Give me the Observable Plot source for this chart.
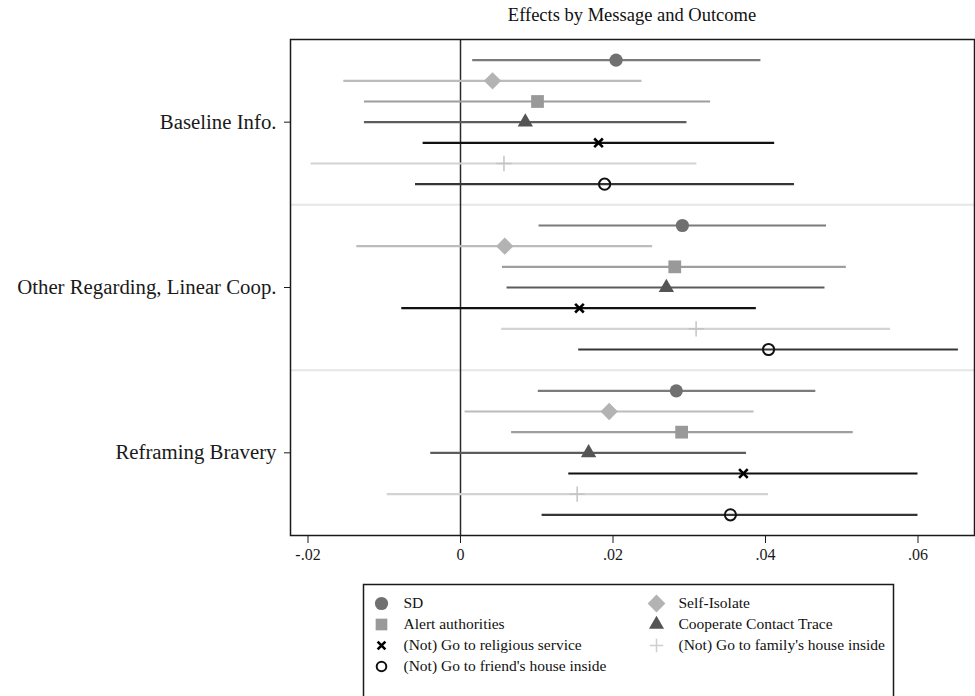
<!DOCTYPE html>
<html>
<head>
<meta charset="utf-8">
<script src="https://cdn.jsdelivr.net/npm/d3@7"></script>
<script src="https://cdn.jsdelivr.net/npm/@observablehq/plot@0.6"></script>
<style>
  html, body { margin: 0; padding: 0; background: #fff; }
  #wrap { position: relative; width: 975px; height: 696px; overflow: hidden; background: #fff; font-family: "Liberation Serif", "Times New Roman", serif; }
  #title { position: absolute; left: 290px; width: 684px; top: 6px; text-align: center; font-size: 18.5px; line-height: 19px; color: #111; }
  #main { position: absolute; left: 0; top: 30px; }
  #legend { position: absolute; left: 0; top: 575px; }
</style>
</head>
<body>
<div id="wrap">
  <div id="title">Effects by Message and Outcome</div>
  <div id="main"></div>
  <div id="legend"></div>
</div>
<script>
// ---- data ----
const messages = ["Baseline Info.", "Other Regarding, Linear Coop.", "Reframing Bravery"];
const outcomes = [
  "SD",
  "Self-Isolate",
  "Alert authorities",
  "Cooperate Contact Trace",
  "(Not) Go to religious service",
  "(Not) Go to family's house inside",
  "(Not) Go to friend's house inside"
];
const estBaseline = [0.0204, 0.0042, 0.0101, 0.0085, 0.0181, 0.0057, 0.0189];
const loBaseline  = [0.0016, -0.0153, -0.0126, -0.0126, -0.0049, -0.0196, -0.0059];
const hiBaseline  = [0.0394, 0.0238, 0.0328, 0.0297, 0.0412, 0.0310, 0.0438];
const estOther = [0.0291, 0.0058, 0.0281, 0.0270, 0.0156, 0.0309, 0.0404];
const loOther  = [0.0103, -0.0136, 0.0055, 0.0061, -0.0077, 0.0054, 0.0155];
const hiOther  = [0.0480, 0.0252, 0.0506, 0.0478, 0.0388, 0.0564, 0.0653];
const estBravery = [0.0283, 0.0195, 0.0290, 0.0168, 0.0371, 0.0153, 0.0354];
const loBravery  = [0.0102, 0.0006, 0.0067, -0.0039, 0.0142, -0.0096, 0.0107];
const hiBravery  = [0.0466, 0.0385, 0.0515, 0.0375, 0.0600, 0.0404, 0.0600];
const xTicks = [-0.02, 0, 0.02, 0.04, 0.06];
const xTickLabels = ["-.02", "0", ".02", ".04", ".06"];

// ---- table ----
const est = [estBaseline, estOther, estBravery];
const lo = [loBaseline, loOther, loBravery];
const hi = [hiBaseline, hiOther, hiBravery];
const slots = outcomes.length + 1;
const rows = [];
messages.forEach((m, i) => outcomes.forEach((o, j) => {
  rows.push({message: m, outcome: o, est: est[i][j], lo: lo[i][j], hi: hi[i][j], pos: i * slots + j + 1});
}));
const yTicks = messages.map((m, i) => i * slots + (slots / 2));
const separators = messages.slice(1).map((m, i) => (i + 1) * slots);

// ---- styles ----
const styles = {
  "SD": {line: "#7b7b7b", symbol: "circle", fill: "#707070", stroke: "none", r: 6.6, sw: 0},
  "Self-Isolate": {line: "#bcbcbc", symbol: "diamond2", fill: "#b3b3b3", stroke: "none", r: 7.8, sw: 0},
  "Alert authorities": {line: "#9e9e9e", symbol: "square", fill: "#999999", stroke: "none", r: 7.2, sw: 0},
  "Cooperate Contact Trace": {line: "#5c5c5c", symbol: "triangle", fill: "#545454", stroke: "none", r: 5.7, sw: 0},
  "(Not) Go to religious service": {line: "#111111", symbol: "times", fill: "none", stroke: "#000", r: 4, sw: 2.6},
  "(Not) Go to family's house inside": {line: "#d3d3d3", symbol: "plus", fill: "none", stroke: "#c4c4c4", r: 5, sw: 1.5},
  "(Not) Go to friend's house inside": {line: "#363636", symbol: "circle", fill: "none", stroke: "#111", r: 5.6, sw: 2}
};

const font = "'Liberation Serif', 'Times New Roman', serif";

// ---- main chart ----
const marks = [
  Plot.ruleY(separators, {stroke: "#e6e6e6", strokeWidth: 2}),
  Plot.ruleX([0], {stroke: "#2a2a2a", strokeWidth: 1.5}),
];
outcomes.forEach(o => {
  const s = styles[o];
  const data = rows.filter(d => d.outcome === o);
  marks.push(Plot.ruleY(data, {y: "pos", x1: "lo", x2: "hi", stroke: s.line, strokeWidth: 2.2}));
});
outcomes.forEach(o => {
  const s = styles[o];
  const data = rows.filter(d => d.outcome === o);
  marks.push(Plot.dot(data, {x: "est", y: "pos", symbol: () => s.symbol, r: s.r, fill: s.fill, stroke: s.stroke, strokeWidth: s.sw}));
});
marks.push(
  Plot.frame({stroke: "#1a1a1a", strokeWidth: 1.5}),
  Plot.axisX({ticks: xTicks, tickFormat: d => xTickLabels[xTicks.indexOf(d)], tickSize: 8, tickPadding: 5, fontSize: 16, label: null}),
  Plot.axisY({ticks: yTicks, tickFormat: d => messages[(d - slots / 2) / slots], tickSize: 6, tickPadding: 8, fontSize: 20.8, label: null})
);

const x0 = -170 / 7625, x1 = 514 / 7625;
const chart = Plot.plot({
  width: 975,
  height: 545,
  marginTop: 9,
  marginBottom: 40,
  marginLeft: 290,
  marginRight: 1,
  style: {fontFamily: font, color: "#1a1a1a", background: "#fff"},
  x: {domain: [x0, x1]},
  y: {domain: [0, slots * messages.length], reverse: true},
  symbol: {type: "identity"},
  marks
});
document.getElementById("main").appendChild(chart);

// ---- legend ----
const legendRows = outcomes.map((o, i) => ({outcome: o, col: i % 2, row: Math.floor(i / 2)}));
const legendMarks = [Plot.frame({stroke: "#1a1a1a", strokeWidth: 1.5})];
legendRows.forEach(d => {
  const s = styles[d.outcome];
  const legR = {"SD": 6.6, "Self-Isolate": 8, "Alert authorities": 6.6, "Cooperate Contact Trace": 5.6,
    "(Not) Go to religious service": 3.6, "(Not) Go to family's house inside": 4.4, "(Not) Go to friend's house inside": 4.8}[d.outcome];
  legendMarks.push(Plot.dot([d], {x: "col", y: "row", symbol: () => s.symbol, r: legR, fill: s.fill,
    stroke: d.outcome === "(Not) Go to family's house inside" ? "#cfcfcf" : s.stroke, strokeWidth: s.sw}));
});
legendMarks.push(Plot.text(legendRows, {x: "col", y: "row", text: "outcome", dx: 22, textAnchor: "start", fontSize: 15.5, fill: "#111"}));

const legend = Plot.plot({
  width: 975,
  height: 140,
  marginTop: 9,
  marginBottom: 0,
  marginLeft: 363,
  marginRight: 82,
  style: {fontFamily: font, color: "#1a1a1a", background: "transparent"},
  x: {domain: [0, 1], range: [381, 656], axis: null},
  y: {domain: [0, 3], range: [28, 91], axis: null},
  symbol: {type: "identity"},
  marks: legendMarks
});
document.getElementById("legend").appendChild(legend);
</script>
</body>
</html>
